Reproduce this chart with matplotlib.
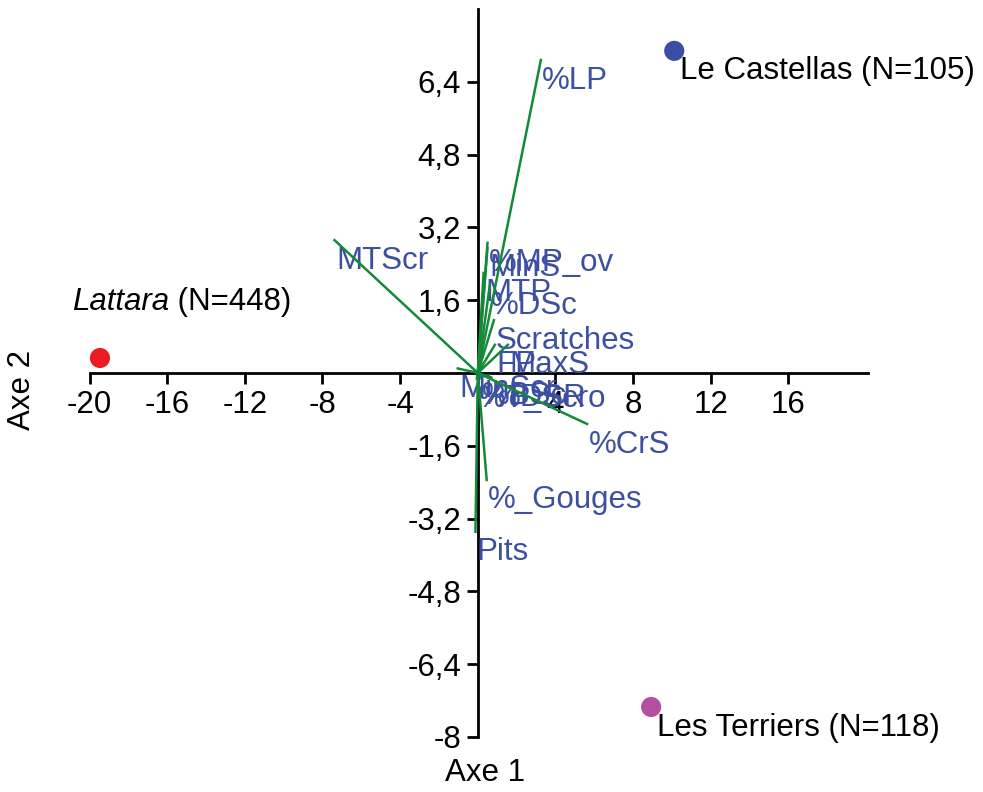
import matplotlib.pyplot as plt

plt.rcParams['font.family'] = ['Liberation Sans', 'DejaVu Sans']

# groupes (scores sur Axe 1 / Axe 2)
sites = ["Lattara", "Le Castellas", "Les Terriers"]
site_n = [448, 105, 118]
site_x = [-19.46, 10.12, 8.93]
site_y = [0.33, 7.08, -7.34]
site_col = ["#ec1c24", "#3a4ea3", "#b54f9f"]

# variables (vecteurs du biplot)
var_names = ["%LP", "MTScr", "%CrS", "%_Gouges", "Pits", "%MP_ov", "MinS",
             "MTP", "%DSc", "Scratches", "FP", "MaxS", "MinScr", "%BSc",
             "%DSR", "%T_Scro"]
var_x = [3.25, -7.38, 5.63, 0.46, -0.12, 0.50, 0.50, 0.30, 0.62, 0.83,
         0.88, 1.55, -1.03, 0.15, 0.70, -0.05]
var_y = [6.88, 2.92, -1.12, -2.35, -3.49, 2.86, 2.75, 2.20, 1.93, 1.16,
         0.62, 0.62, 0.10, -0.05, -0.10, -0.12]

xticks = [-20, -16, -12, -8, -4, 4, 8, 12, 16]
yticks = [-8, -6.4, -4.8, -3.2, -1.6, 1.6, 3.2, 4.8, 6.4]
ytick_labels = ["-8", "-6,4", "-4,8", "-3,2", "-1,6", "1,6", "3,2", "4,8", "6,4"]

fs = 22.5
blue_txt = "#3c4fa0"
green = "#138a3a"

fig = plt.figure(figsize=(9.83, 7.92), dpi=100)
ax = fig.add_axes([89.5 / 983, 55 / 792, (868 - 89.5) / 983, 728 / 792])
ax.set_xlim(-20, 20.1)
ax.set_ylim(-8, 8)

for s in ['top', 'right']:
    ax.spines[s].set_visible(False)
ax.spines['left'].set_position(('data', 0))
ax.spines['bottom'].set_position(('data', 0))
for s in ['left', 'bottom']:
    ax.spines[s].set_linewidth(2.0)
    ax.spines[s].set_zorder(1)

ax.set_xticks(xticks)
ax.set_xticklabels([str(t) for t in xticks])
ax.set_yticks(yticks)
ax.set_yticklabels(ytick_labels)
ax.tick_params(direction='out', length=8, width=2.0, labelsize=fs, pad=4)

# vecteurs
for name, vx, vy in zip(var_names, var_x, var_y):
    ax.plot([0, vx], [0, vy], color=green, lw=1.8, zorder=3, clip_on=False)
    ax.annotate(name, (vx, vy), xytext=(1, -4), textcoords='offset points',
                ha='left', va='top', fontsize=fs, color=blue_txt, zorder=2,
                annotation_clip=False)

# groupes
ax.scatter(site_x, site_y, s=210, c=site_col, zorder=4, clip_on=False,
           edgecolors='none')
ax.annotate(f"Le Castellas (N={site_n[1]})", (site_x[1], site_y[1]),
            xytext=(4, -4), textcoords='offset points', ha='left', va='top',
            fontsize=fs, annotation_clip=False)
ax.annotate(f"Les Terriers (N={site_n[2]})", (site_x[2], site_y[2]),
            xytext=(4, -4), textcoords='offset points', ha='left', va='top',
            fontsize=fs, annotation_clip=False)
t = ax.annotate(sites[0], (site_x[0], site_y[0]), xytext=(-20, 40),
                textcoords='offset points', ha='left', va='center',
                fontsize=fs, style='italic', annotation_clip=False)
ax.annotate(f" (N={site_n[0]})", xy=(1, 0.5), xycoords=t,
            ha='left', va='center', fontsize=fs, annotation_clip=False)

fig.text(485 / 983, 1 - 773 / 792, "Axe 1", ha='center', va='center', fontsize=fs)
fig.text(22 / 983, 1 - 390 / 792, "Axe 2", ha='center', va='center',
         fontsize=fs, rotation=90)

fig.savefig("out.png", dpi=100)
